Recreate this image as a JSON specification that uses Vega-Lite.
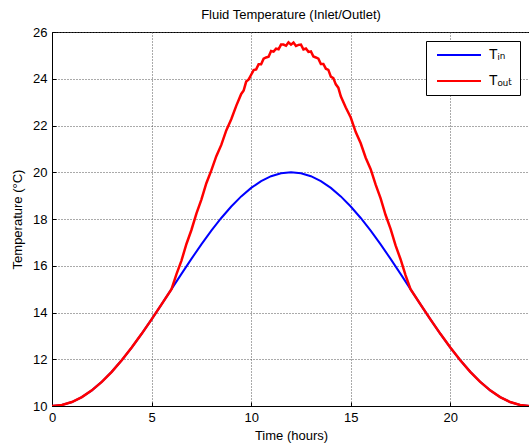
{
  "$schema": "https://vega.github.io/schema/vega-lite/v6.json",
  "autosize": {"type": "none"},
  "padding": {"left": 52, "top": 32, "right": 0, "bottom": 42},
  "width": 478,
  "height": 374,
  "background": "white",
  "title": {"text": "Fluid Temperature (Inlet/Outlet)", "fontSize": 13, "fontWeight": "normal", "font": "Liberation Sans", "color": "black", "offset": 4},
  "config": {
    "view": {"stroke": "black", "strokeWidth": 1},
    "axis": {"labelFont": "Liberation Sans", "titleFont": "Liberation Sans", "labelFontSize": 13, "titleFontSize": 13, "titleFontWeight": "normal", "labelColor": "black", "titleColor": "black", "domainColor": "black", "ticks": true, "tickSize": -4, "tickColor": "black", "gridColor": "#555", "gridDash": [1, 2], "gridOpacity": 1, "labelPadding": 9, "labelFlush": false}
  },
  "data": {"values": [
    {"t": 0, "T": 10.0, "s": "Tᵢₙ"}, {"t": 0.5, "T": 10.043, "s": "Tᵢₙ"}, {"t": 1, "T": 10.17, "s": "Tᵢₙ"}, {"t": 1.5, "T": 10.381, "s": "Tᵢₙ"}, {"t": 2, "T": 10.67, "s": "Tᵢₙ"}, {"t": 2.5, "T": 11.033, "s": "Tᵢₙ"}, {"t": 3, "T": 11.464, "s": "Tᵢₙ"}, {"t": 3.5, "T": 11.956, "s": "Tᵢₙ"}, {"t": 4, "T": 12.5, "s": "Tᵢₙ"}, {"t": 4.5, "T": 13.087, "s": "Tᵢₙ"}, {"t": 5, "T": 13.706, "s": "Tᵢₙ"}, {"t": 5.5, "T": 14.347, "s": "Tᵢₙ"}, {"t": 6, "T": 15.0, "s": "Tᵢₙ"}, {"t": 6.5, "T": 15.653, "s": "Tᵢₙ"}, {"t": 7, "T": 16.294, "s": "Tᵢₙ"}, {"t": 7.5, "T": 16.913, "s": "Tᵢₙ"}, {"t": 8, "T": 17.5, "s": "Tᵢₙ"}, {"t": 8.5, "T": 18.044, "s": "Tᵢₙ"}, {"t": 9, "T": 18.536, "s": "Tᵢₙ"}, {"t": 9.5, "T": 18.967, "s": "Tᵢₙ"}, {"t": 10, "T": 19.33, "s": "Tᵢₙ"}, {"t": 10.5, "T": 19.619, "s": "Tᵢₙ"}, {"t": 11, "T": 19.83, "s": "Tᵢₙ"}, {"t": 11.5, "T": 19.957, "s": "Tᵢₙ"}, {"t": 12, "T": 20.0, "s": "Tᵢₙ"}, {"t": 12.5, "T": 19.957, "s": "Tᵢₙ"}, {"t": 13, "T": 19.83, "s": "Tᵢₙ"}, {"t": 13.5, "T": 19.619, "s": "Tᵢₙ"}, {"t": 14, "T": 19.33, "s": "Tᵢₙ"}, {"t": 14.5, "T": 18.967, "s": "Tᵢₙ"}, {"t": 15, "T": 18.536, "s": "Tᵢₙ"}, {"t": 15.5, "T": 18.044, "s": "Tᵢₙ"}, {"t": 16, "T": 17.5, "s": "Tᵢₙ"}, {"t": 16.5, "T": 16.913, "s": "Tᵢₙ"}, {"t": 17, "T": 16.294, "s": "Tᵢₙ"}, {"t": 17.5, "T": 15.653, "s": "Tᵢₙ"}, {"t": 18, "T": 15.0, "s": "Tᵢₙ"}, {"t": 18.5, "T": 14.347, "s": "Tᵢₙ"}, {"t": 19, "T": 13.706, "s": "Tᵢₙ"}, {"t": 19.5, "T": 13.087, "s": "Tᵢₙ"}, {"t": 20, "T": 12.5, "s": "Tᵢₙ"}, {"t": 20.5, "T": 11.956, "s": "Tᵢₙ"}, {"t": 21, "T": 11.464, "s": "Tᵢₙ"}, {"t": 21.5, "T": 11.033, "s": "Tᵢₙ"}, {"t": 22, "T": 10.67, "s": "Tᵢₙ"}, {"t": 22.5, "T": 10.381, "s": "Tᵢₙ"}, {"t": 23, "T": 10.17, "s": "Tᵢₙ"}, {"t": 23.5, "T": 10.043, "s": "Tᵢₙ"}, {"t": 24, "T": 10.0, "s": "Tᵢₙ"},
    {"t": 0, "T": 10.0, "s": "Tₒᵤₜ"}, {"t": 0.5, "T": 10.043, "s": "Tₒᵤₜ"}, {"t": 1, "T": 10.17, "s": "Tₒᵤₜ"}, {"t": 1.5, "T": 10.381, "s": "Tₒᵤₜ"}, {"t": 2, "T": 10.67, "s": "Tₒᵤₜ"}, {"t": 2.5, "T": 11.033, "s": "Tₒᵤₜ"}, {"t": 3, "T": 11.464, "s": "Tₒᵤₜ"}, {"t": 3.5, "T": 11.956, "s": "Tₒᵤₜ"}, {"t": 4, "T": 12.5, "s": "Tₒᵤₜ"}, {"t": 4.5, "T": 13.087, "s": "Tₒᵤₜ"}, {"t": 5, "T": 13.706, "s": "Tₒᵤₜ"}, {"t": 5.5, "T": 14.347, "s": "Tₒᵤₜ"},
    {"t": 6.0, "T": 15.0, "s": "Tₒᵤₜ"}, {"t": 6.25, "T": 15.64, "s": "Tₒᵤₜ"}, {"t": 6.5, "T": 16.22, "s": "Tₒᵤₜ"}, {"t": 6.75, "T": 16.93, "s": "Tₒᵤₜ"}, {"t": 7.0, "T": 17.53, "s": "Tₒᵤₜ"}, {"t": 7.25, "T": 18.23, "s": "Tₒᵤₜ"}, {"t": 7.5, "T": 18.83, "s": "Tₒᵤₜ"}, {"t": 7.75, "T": 19.53, "s": "Tₒᵤₜ"}, {"t": 8.0, "T": 20.08, "s": "Tₒᵤₜ"}, {"t": 8.25, "T": 20.69, "s": "Tₒᵤₜ"}, {"t": 8.5, "T": 21.17, "s": "Tₒᵤₜ"}, {"t": 8.75, "T": 21.79, "s": "Tₒᵤₜ"}, {"t": 9.0, "T": 22.27, "s": "Tₒᵤₜ"}, {"t": 9.25, "T": 22.84, "s": "Tₒᵤₜ"},
    {"t": 9.5, "T": 23.35, "s": "Tₒᵤₜ"}, {"t": 9.625, "T": 23.5, "s": "Tₒᵤₜ"}, {"t": 9.75, "T": 23.88, "s": "Tₒᵤₜ"}, {"t": 9.875, "T": 23.97, "s": "Tₒᵤₜ"}, {"t": 10.0, "T": 24.17, "s": "Tₒᵤₜ"}, {"t": 10.125, "T": 24.37, "s": "Tₒᵤₜ"}, {"t": 10.25, "T": 24.4, "s": "Tₒᵤₜ"}, {"t": 10.375, "T": 24.62, "s": "Tₒᵤₜ"}, {"t": 10.5, "T": 24.62, "s": "Tₒᵤₜ"}, {"t": 10.625, "T": 24.86, "s": "Tₒᵤₜ"}, {"t": 10.75, "T": 24.91, "s": "Tₒᵤₜ"}, {"t": 10.875, "T": 24.94, "s": "Tₒᵤₜ"}, {"t": 11.0, "T": 25.19, "s": "Tₒᵤₜ"}, {"t": 11.125, "T": 25.16, "s": "Tₒᵤₜ"}, {"t": 11.25, "T": 25.29, "s": "Tₒᵤₜ"}, {"t": 11.375, "T": 25.26, "s": "Tₒᵤₜ"}, {"t": 11.5, "T": 25.46, "s": "Tₒᵤₜ"}, {"t": 11.625, "T": 25.46, "s": "Tₒᵤₜ"}, {"t": 11.75, "T": 25.41, "s": "Tₒᵤₜ"}, {"t": 11.875, "T": 25.56, "s": "Tₒᵤₜ"}, {"t": 12.0, "T": 25.46, "s": "Tₒᵤₜ"}, {"t": 12.125, "T": 25.55, "s": "Tₒᵤₜ"}, {"t": 12.25, "T": 25.4, "s": "Tₒᵤₜ"}, {"t": 12.375, "T": 25.45, "s": "Tₒᵤₜ"}, {"t": 12.5, "T": 25.46, "s": "Tₒᵤₜ"}, {"t": 12.625, "T": 25.25, "s": "Tₒᵤₜ"}, {"t": 12.75, "T": 25.29, "s": "Tₒᵤₜ"}, {"t": 12.875, "T": 25.15, "s": "Tₒᵤₜ"}, {"t": 13.0, "T": 25.17, "s": "Tₒᵤₜ"}, {"t": 13.125, "T": 24.95, "s": "Tₒᵤₜ"}, {"t": 13.25, "T": 24.91, "s": "Tₒᵤₜ"}, {"t": 13.375, "T": 24.86, "s": "Tₒᵤₜ"}, {"t": 13.5, "T": 24.63, "s": "Tₒᵤₜ"}, {"t": 13.625, "T": 24.63, "s": "Tₒᵤₜ"}, {"t": 13.75, "T": 24.43, "s": "Tₒᵤₜ"}, {"t": 13.875, "T": 24.38, "s": "Tₒᵤₜ"}, {"t": 14.0, "T": 24.09, "s": "Tₒᵤₜ"}, {"t": 14.125, "T": 24.03, "s": "Tₒᵤₜ"}, {"t": 14.25, "T": 23.76, "s": "Tₒᵤₜ"}, {"t": 14.375, "T": 23.62, "s": "Tₒᵤₜ"}, {"t": 14.5, "T": 23.25, "s": "Tₒᵤₜ"},
    {"t": 14.75, "T": 22.77, "s": "Tₒᵤₜ"}, {"t": 15.0, "T": 22.34, "s": "Tₒᵤₜ"}, {"t": 15.25, "T": 21.72, "s": "Tₒᵤₜ"}, {"t": 15.5, "T": 21.24, "s": "Tₒᵤₜ"}, {"t": 15.75, "T": 20.62, "s": "Tₒᵤₜ"}, {"t": 16.0, "T": 20.13, "s": "Tₒᵤₜ"}, {"t": 16.25, "T": 19.47, "s": "Tₒᵤₜ"}, {"t": 16.5, "T": 18.88, "s": "Tₒᵤₜ"}, {"t": 16.75, "T": 18.17, "s": "Tₒᵤₜ"}, {"t": 17.0, "T": 17.58, "s": "Tₒᵤₜ"}, {"t": 17.25, "T": 16.87, "s": "Tₒᵤₜ"}, {"t": 17.5, "T": 16.28, "s": "Tₒᵤₜ"}, {"t": 17.75, "T": 15.6, "s": "Tₒᵤₜ"}, {"t": 18.0, "T": 15.0, "s": "Tₒᵤₜ"},
    {"t": 18.5, "T": 14.347, "s": "Tₒᵤₜ"}, {"t": 19, "T": 13.706, "s": "Tₒᵤₜ"}, {"t": 19.5, "T": 13.087, "s": "Tₒᵤₜ"}, {"t": 20, "T": 12.5, "s": "Tₒᵤₜ"}, {"t": 20.5, "T": 11.956, "s": "Tₒᵤₜ"}, {"t": 21, "T": 11.464, "s": "Tₒᵤₜ"}, {"t": 21.5, "T": 11.033, "s": "Tₒᵤₜ"}, {"t": 22, "T": 10.67, "s": "Tₒᵤₜ"}, {"t": 22.5, "T": 10.381, "s": "Tₒᵤₜ"}, {"t": 23, "T": 10.17, "s": "Tₒᵤₜ"}, {"t": 23.5, "T": 10.043, "s": "Tₒᵤₜ"}, {"t": 24, "T": 10.0, "s": "Tₒᵤₜ"}
  ]},
  "encoding": {
    "x": {"field": "t", "type": "quantitative", "scale": {"domain": [0, 24], "nice": false}, "axis": {"values": [0, 5, 10, 15, 20], "title": "Time (hours)", "titlePadding": 5}},
    "y": {"field": "T", "type": "quantitative", "scale": {"domain": [10, 26], "nice": false, "zero": false}, "axis": {"values": [10, 12, 14, 16, 18, 20, 22, 24, 26], "title": "Temperature (°C)", "titlePadding": 8}},
    "color": {"field": "s", "type": "nominal", "scale": {"domain": ["Tᵢₙ", "Tₒᵤₜ"], "range": ["#0000ff", "#ff0000"]},
      "legend": {"title": null, "orient": "none", "legendX": 374, "legendY": 9, "strokeColor": "black", "fillColor": "white", "padding": 7, "symbolType": "M-4,0H4", "symbolSize": 121, "symbolOffset": 19, "symbolStrokeWidth": 2, "labelFontSize": 14, "labelFont": "Liberation Sans, DejaVu Sans", "labelColor": "black", "rowPadding": 12, "labelOffset": 23}}
  },
  "layer": [
    {"transform": [{"filter": "datum.s === 'Tᵢₙ'"}], "mark": {"type": "line", "strokeWidth": 2, "clip": true}},
    {"transform": [{"filter": "datum.s === 'Tₒᵤₜ'"}], "mark": {"type": "line", "strokeWidth": 2.5, "clip": true}}
  ]
}
